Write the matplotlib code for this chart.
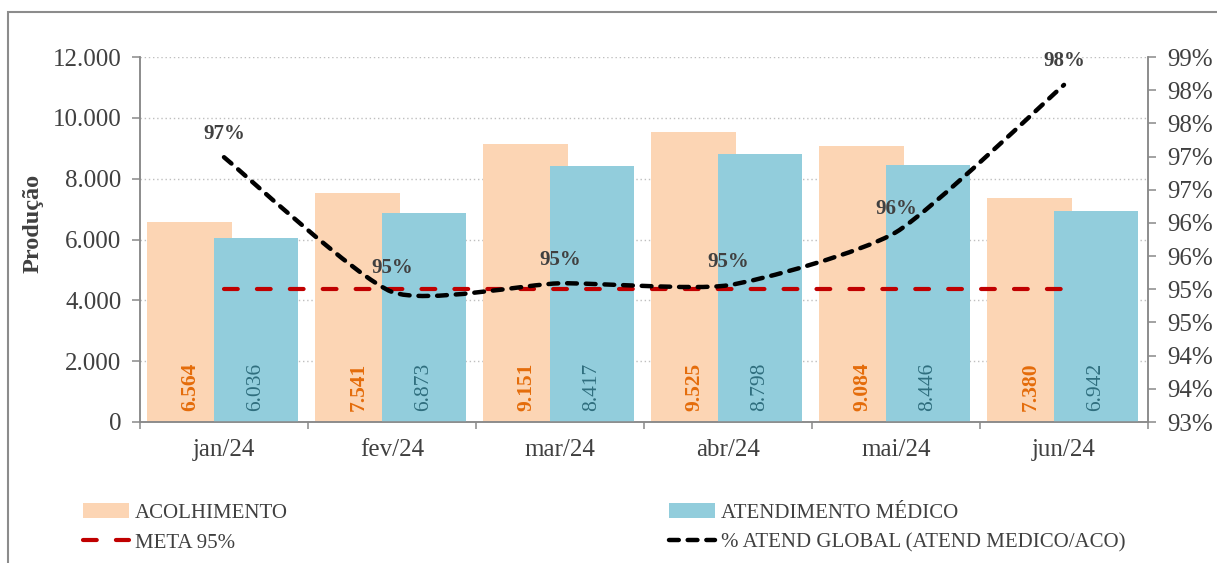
import numpy as np
import matplotlib
matplotlib.use("Agg")
import matplotlib.pyplot as plt
from matplotlib.path import Path
from matplotlib.patches import PathPatch, Patch, Rectangle
from matplotlib.lines import Line2D
from matplotlib.ticker import FuncFormatter

plt.rcParams['font.family'] = ['Liberation Serif', 'DejaVu Serif']

# data
meses = ['jan/24', 'fev/24', 'mar/24', 'abr/24', 'mai/24', 'jun/24']
acolhimento = [6564, 7541, 9151, 9525, 9084, 7380]
atend_medico = [6036, 6873, 8417, 8798, 8446, 6942]
pct_global = [0.9699, 0.9496, 0.9509, 0.9506, 0.9586, 0.9808]
pct_labels = ['97%', '95%', '95%', '95%', '96%', '98%']
meta = [0.95] * 6

c_acol = '#FCD5B4'
c_med = '#92CDDC'
c_txt = '#404040'
c_grid = '#BFBFBF'
c_spine = '#898989'

fig = plt.figure(figsize=(12.17, 5.63), dpi=100)
ax = fig.add_axes([140 / 1217, 1 - 422 / 563, 1008 / 1217, 365 / 563])
ax2 = ax.twinx()

x = np.arange(len(meses))

# bars (left axis)
ax.bar(x - 0.205, acolhimento, width=0.505, color=c_acol, zorder=2)
ax.bar(x + 0.19, atend_medico, width=0.505, color=c_med, zorder=3)
for i in range(len(meses)):
    ax.text(x[i] - 0.2, 1150, f"{acolhimento[i]:,}".replace(',', '.'), rotation=90,
            ha='center', va='center', fontsize=15.5, fontweight='bold', color='#E46C0A', zorder=5)
    ax.text(x[i] + 0.19, 1150, f"{atend_medico[i]:,}".replace(',', '.'), rotation=90,
            ha='center', va='center', fontsize=15.5, color='#2F6E7E', zorder=5)

ax.set_xlim(-0.5, 5.5)
ax.set_ylim(0, 12000)
ax.set_yticks(np.arange(0, 12001, 2000))
ax.yaxis.set_major_formatter(FuncFormatter(lambda v, p: f"{int(v):,}".replace(',', '.')))
ax.yaxis.grid(True, linestyle=(0, (1, 2)), color=c_grid, linewidth=1, zorder=0)
ax.set_axisbelow(True)

# category boundaries as major ticks, names on minor ticks
ax.set_xticks(np.arange(-0.5, 6, 1))
ax.set_xticklabels([])
ax.set_xticks(x, minor=True)
ax.set_xticklabels(meses, minor=True)
ax.tick_params(axis='x', which='major', length=5, width=1.1, color=c_spine, direction='out')
ax.tick_params(axis='x', which='minor', length=0, pad=12, labelsize=18, labelcolor=c_txt)
ax.tick_params(axis='y', length=5.5, width=1.1, color=c_spine, pad=8, labelsize=18, labelcolor=c_txt)

ax.set_ylabel('Produção', fontsize=17.5, fontweight='bold', color=c_txt)
ax.yaxis.set_label_coords(-0.096, 0.545)

for a in (ax, ax2):
    a.spines['top'].set_visible(False)
    for s in ('left', 'right', 'bottom'):
        a.spines[s].set_color(c_spine)
        a.spines[s].set_linewidth(1.1)

# right axis
ax2.set_ylim(0.93, 0.985)
ax2.set_yticks(np.arange(0.93, 0.9851, 0.005))
ax2.yaxis.set_major_formatter(FuncFormatter(lambda v, p: f"{int(np.floor(v * 100 + 0.5 + 1e-6))}%"))
ax2.tick_params(axis='y', length=5.5, width=1.1, color=c_spine, pad=8, labelsize=18, labelcolor=c_txt)

# meta line
ax2.plot(x, meta, color='#C00000', linewidth=3.0, dashes=(3.3, 4.6),
         dash_capstyle='round', zorder=4)

# smoothed % line (Bezier path through the data points)
pts = np.column_stack([x, pct_global])
verts = [pts[0]]
codes = [Path.MOVETO]
k = 1 / 10
for i in range(len(pts) - 1):
    p0 = pts[max(i - 1, 0)]
    p1 = pts[i]
    p2 = pts[i + 1]
    p3 = pts[min(i + 2, len(pts) - 1)]
    verts += [p1 + (p2 - p0) * k, p2 - (p3 - p1) * k, p2]
    codes += [Path.CURVE4] * 3
patch = PathPatch(Path(verts, codes), facecolor='none', edgecolor='black', linewidth=3.2,
                  linestyle=(0, (2.2, 2.0)), capstyle='round', zorder=6)
ax2.add_patch(patch)

for i in range(len(meses)):
    ax2.annotate(pct_labels[i], (x[i], pct_global[i]), xytext=(0, 17), textcoords='offset points',
                 ha='center', va='center', fontsize=15, fontweight='bold', color=c_txt,
                 annotation_clip=False, zorder=7)

# legend
handles = [
    Patch(facecolor=c_acol, edgecolor='none'),
    Line2D([], [], color='#C00000', linewidth=3.0, dashes=(3.3, 4.6), dash_capstyle='round'),
    Patch(facecolor=c_med, edgecolor='none'),
    Line2D([], [], color='black', linewidth=3.2, dashes=(2.2, 2.0), dash_capstyle='round'),
]
labels = ['ACOLHIMENTO', 'META 95%', 'ATENDIMENTO MÉDICO', '% ATEND GLOBAL (ATEND MEDICO/ACO)']
leg = fig.legend(handles, labels, ncol=2, loc='upper left', bbox_to_anchor=(83 / 1217, 1 - 503 / 563),
                 frameon=False, fontsize=15, handlelength=2.2, handletextpad=0.3,
                 columnspacing=18.3, labelspacing=0.5, borderpad=0, borderaxespad=0)
for t in leg.get_texts():
    t.set_color(c_txt)

# outer border
fig.patches.append(Rectangle((8 / 1217, -0.1), 1.2, 1 - 12 / 563 + 0.1, transform=fig.transFigure,
                             fill=False, edgecolor='#8C8C8C', linewidth=1.5))

fig.savefig('out.png', dpi=100)
